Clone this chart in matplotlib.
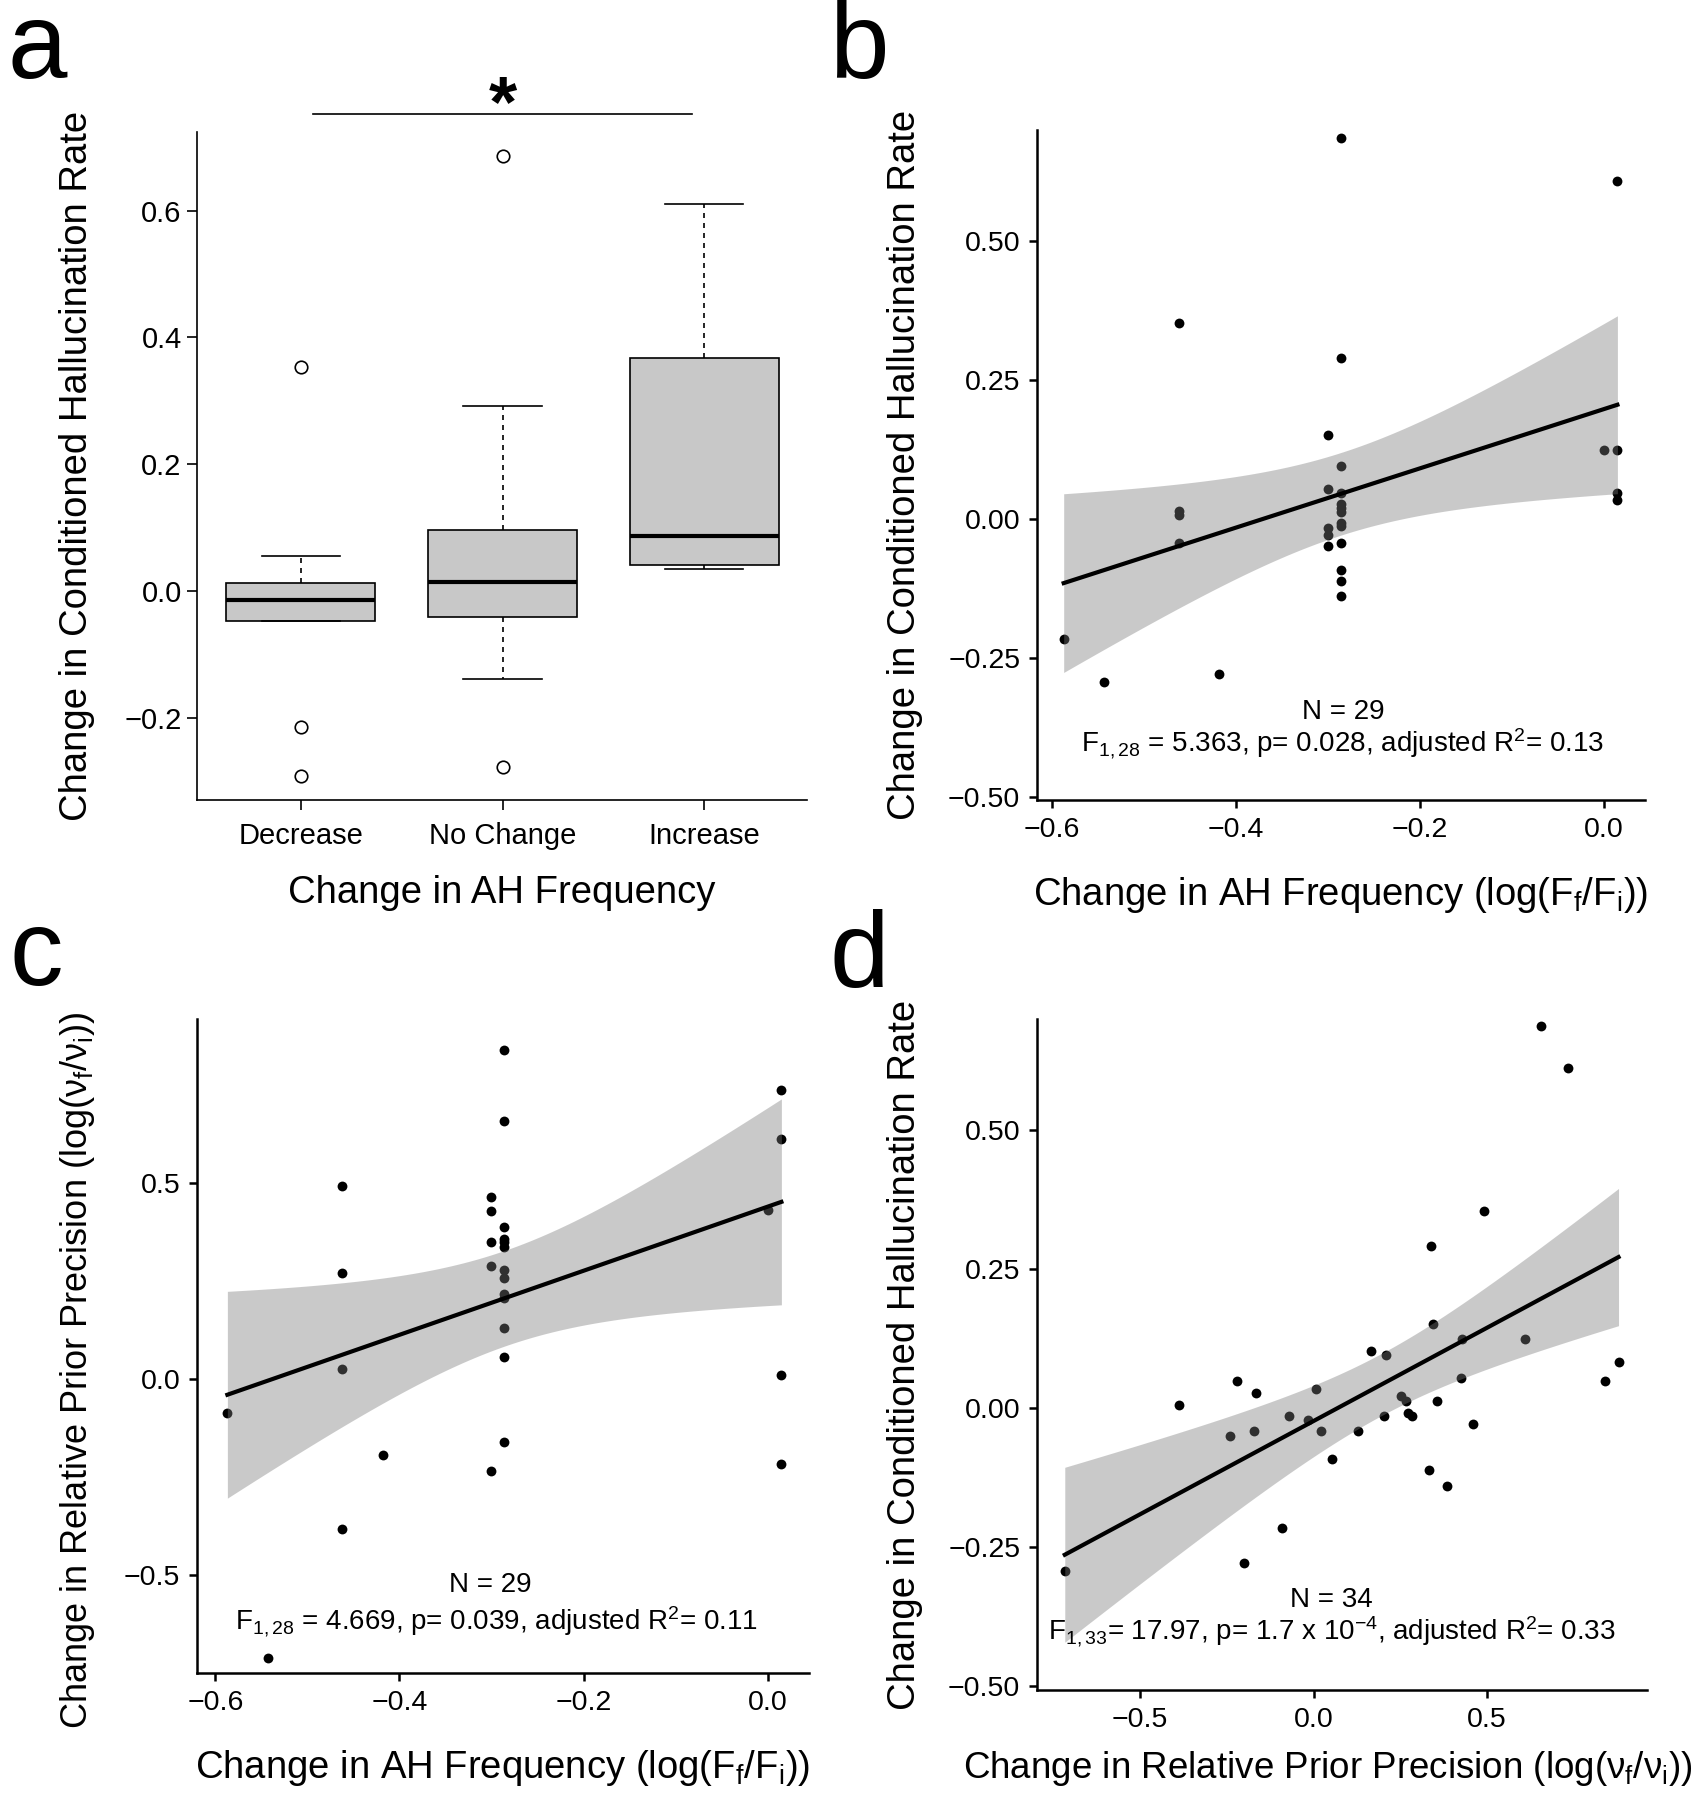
import numpy as np
import matplotlib
matplotlib.use("Agg")
import matplotlib.pyplot as plt
from matplotlib.ticker import FuncFormatter

plt.rcParams['font.family'] = ['Liberation Sans', 'DejaVu Sans']
plt.rcParams['mathtext.fontset'] = 'custom'
plt.rcParams['mathtext.rm'] = 'Liberation Sans'
plt.rcParams['mathtext.it'] = 'Liberation Sans'
plt.rcParams['mathtext.bf'] = 'Liberation Sans:bold'

# ---- panel a: box summaries ----
groups = ["Decrease", "No Change", "Increase"]
box_q1 = [-0.048, -0.042, 0.041]
box_med = [-0.014, 0.014, 0.087]
box_q3 = [0.013, 0.096, 0.367]
whisk_lo = [-0.048, -0.139, 0.034]
whisk_hi = [0.055, 0.292, 0.610]
outliers = [[0.353, -0.215, -0.292], [0.686, -0.278], []]

# ---- panel b: AH frequency vs conditioned hallucination rate ----
freq_b = [-0.286, 0.015, -0.462, -0.286, -0.300, -0.286, -0.300, -0.286, -0.286, -0.286,
          -0.286, -0.286, -0.286, -0.300, -0.300, -0.300, -0.286, -0.286, -0.286, -0.286,
          -0.462, -0.462, -0.462, -0.587, -0.543, -0.418, 0.000, 0.015, 0.015, 0.015]
rate_b = [0.686, 0.609, 0.353, 0.290, 0.152, 0.096, 0.055, 0.048, 0.028, 0.021,
          0.013, -0.007, -0.013, -0.015, -0.028, -0.049, -0.043, -0.091, -0.112, -0.139,
          0.014, 0.007, -0.042, -0.215, -0.292, -0.278, 0.124, 0.124, 0.048, 0.034]

# ---- panel c: AH frequency vs relative prior precision ----
freq_c = [-0.286, 0.015, -0.286, 0.015, -0.462, -0.300, -0.300, -0.286, -0.286, -0.286,
          -0.300, -0.286, 0.000, -0.462, -0.300, -0.286, -0.286, -0.286, -0.286, -0.286,
          -0.286, -0.462, 0.015, -0.587, -0.286, -0.418, -0.300, 0.015, -0.462, -0.543]
prec_c = [0.840, 0.738, 0.658, 0.612, 0.492, 0.463, 0.428, 0.387, 0.357, 0.348,
          0.348, 0.336, 0.431, 0.270, 0.288, 0.277, 0.258, 0.216, 0.207, 0.131,
          0.057, 0.026, 0.010, -0.086, -0.161, -0.195, -0.236, -0.216, -0.383, -0.711]

# ---- panel d: relative prior precision vs conditioned hallucination rate ----
prec_d = [0.655, 0.734, 0.490, 0.337, 0.344, 0.427, 0.609, 0.165, 0.210, 0.878,
          0.425, 0.838, -0.221, -0.165, 0.006, -0.388, 0.252, 0.266, 0.355, 0.273,
          0.284, 0.203, -0.072, -0.016, -0.240, -0.172, 0.022, 0.127, 0.460, 0.054,
          0.333, 0.383, -0.090, -0.199, -0.716]
rate_d = [0.688, 0.611, 0.354, 0.291, 0.152, 0.125, 0.125, 0.103, 0.096, 0.083,
          0.055, 0.048, 0.049, 0.028, 0.035, 0.006, 0.021, 0.013, 0.013, -0.008,
          -0.014, -0.014, -0.014, -0.021, -0.050, -0.042, -0.042, -0.042, -0.028, -0.091,
          -0.112, -0.140, -0.216, -0.279, -0.293]

W, H = 1707, 1800
fig = plt.figure(figsize=(W / 100, H / 100), dpi=100)


def add_ax(L, R, T, B):
    return fig.add_axes([L / W, 1 - B / H, (R - L) / W, (B - T) / H])


def fmt(dec):
    return FuncFormatter(lambda v, p: f"{v:.{dec}f}".replace("-", "\u2212"))


def fit_band(x, y, t):
    x = np.asarray(x)
    y = np.asarray(y)
    n = len(x)
    b1, b0 = np.polyfit(x, y, 1)
    xs = np.linspace(x.min(), x.max(), 100)
    yhat = b0 + b1 * xs
    s = np.sqrt(np.sum((y - (b0 + b1 * x)) ** 2) / (n - 2))
    se = s * np.sqrt(1 / n + (xs - x.mean()) ** 2 / np.sum((x - x.mean()) ** 2))
    return xs, yhat, yhat - t * se, yhat + t * se


def style(ax, lw, ticklen, fs=20.5, pad=6):
    for s in ["top", "right"]:
        ax.spines[s].set_visible(False)
    for s in ["left", "bottom"]:
        ax.spines[s].set_linewidth(lw)
    ax.tick_params(length=ticklen, width=lw, labelsize=fs, pad=pad, color='black')


def labels(ax, rect, xl, yl, xlab_y, ylab_x, fsx=27.5, fsy=27.5, xlab_x=None, ylab_y=None):
    L, R, T, B = rect
    ax.set_xlabel(xl, fontsize=fsx, va='center')
    ax.set_ylabel(yl, fontsize=fsy, va='center')
    cx = 0.5 if xlab_x is None else (xlab_x - L) / (R - L)
    cy = 0.5 if ylab_y is None else (B - ylab_y) / (B - T)
    ax.xaxis.set_label_coords(cx, (B - xlab_y) / (B - T))
    ax.yaxis.set_label_coords((ylab_x - L) / (R - L), cy)


def scatter_fit(ax, x, y, t):
    ax.scatter(x, y, s=50, color='black', linewidths=0, zorder=2)
    xs, yh, lo, hi = fit_band(x, y, t)
    ax.fill_between(xs, lo, hi, color='#7a7a7a', alpha=0.4, linewidth=0, zorder=3)
    ax.plot(xs, yh, color='black', lw=3, zorder=4)


# ---------------- a ----------------
rect_a = (197, 807, 132, 800)
ax = add_ax(*rect_a)
stats = []
for i, g in enumerate(groups):
    stats.append(dict(label=g, med=box_med[i], q1=box_q1[i], q3=box_q3[i],
                      whislo=whisk_lo[i], whishi=whisk_hi[i], fliers=outliers[i]))
ax.bxp(stats, positions=[1, 2, 3], widths=0.74, capwidths=0.39, patch_artist=True,
       boxprops=dict(facecolor='#c8c8c8', edgecolor='black', linewidth=1.2),
       medianprops=dict(color='black', linewidth=3),
       whiskerprops=dict(color='black', linewidth=1.2, linestyle=(0, (3, 3))),
       capprops=dict(color='black', linewidth=1.2),
       flierprops=dict(marker='o', markerfacecolor='white', markeredgecolor='black',
                       markersize=9, markeredgewidth=1.2))
ax.set_xlim(0.485, 3.51)
ax.set_ylim(-0.33, 0.724)
ax.set_yticks([-0.2, 0.0, 0.2, 0.4, 0.6])
ax.yaxis.set_major_formatter(fmt(1))
ax.set_xticks([1, 2, 3], groups)
style(ax, 1.2, 7, fs=21, pad=4)
ax.tick_params(axis='x', pad=9)
ax.plot([1.06, 2.94], [0.752, 0.752], color='black', lw=1.2, clip_on=False)
ax.text(2.0, 0.733, "*", fontsize=52, fontweight='bold', ha='center', va='baseline')
labels(ax, rect_a, "Change in AH Frequency", "Change in Conditioned Hallucination Rate", 893, 77)

# ---------------- b ----------------
rect_b = (1037, 1645, 130, 800)
ax = add_ax(*rect_b)
scatter_fit(ax, freq_b, rate_b, 2.048)
ax.set_xlim(-0.616, 0.045)
ax.set_ylim(-0.505, 0.70)
ax.set_xticks([-0.6, -0.4, -0.2, 0.0])
ax.set_yticks([-0.5, -0.25, 0.0, 0.25, 0.5])
ax.xaxis.set_major_formatter(fmt(1))
ax.yaxis.set_major_formatter(fmt(2))
style(ax, 1.8, 6)
ax.text(0.503, 0.131, "N = 29", transform=ax.transAxes, fontsize=20, ha='center', va='center')
ax.text(0.503, 0.084, "F$_{1,28}$ = 5.363, p= 0.028, adjusted R$^2$= 0.13",
        transform=ax.transAxes, fontsize=20, ha='center', va='center')
labels(ax, rect_b, "Change in AH Frequency (log(F$_f$/F$_i$))",
       "Change in Conditioned Hallucination Rate", 895, 905)

# ---------------- c ----------------
rect_c = (197, 809, 1019, 1673)
ax = add_ax(*rect_c)
scatter_fit(ax, freq_c, prec_c, 2.048)
ax.set_xlim(-0.62, 0.045)
ax.set_ylim(-0.75, 0.918)
ax.set_xticks([-0.6, -0.4, -0.2, 0.0])
ax.set_yticks([-0.5, 0.0, 0.5])
ax.xaxis.set_major_formatter(fmt(1))
ax.yaxis.set_major_formatter(fmt(1))
style(ax, 1.8, 6)
ax.text(0.48, 0.135, "N = 29", transform=ax.transAxes, fontsize=20, ha='center', va='center')
ax.text(0.49, 0.078, "F$_{1,28}$ = 4.669, p= 0.039, adjusted R$^2$= 0.11",
        transform=ax.transAxes, fontsize=20, ha='center', va='center')
labels(ax, rect_c, "Change in AH Frequency (log(F$_f$/F$_i$))",
       "Change in Relative Prior Precision (log($\\nu_f$/$\\nu_i$))", 1768, 78,
       fsy=26, ylab_y=1370)

# ---------------- d ----------------
rect_d = (1037, 1647, 1019, 1690)
ax = add_ax(*rect_d)
scatter_fit(ax, prec_d, rate_d, 2.035)
ax.set_xlim(-0.796, 0.96)
ax.set_ylim(-0.507, 0.70)
ax.set_xticks([-0.5, 0.0, 0.5])
ax.set_yticks([-0.5, -0.25, 0.0, 0.25, 0.5])
ax.xaxis.set_major_formatter(fmt(1))
ax.yaxis.set_major_formatter(fmt(2))
style(ax, 1.8, 6)
ax.text(0.483, 0.134, "N = 34", transform=ax.transAxes, fontsize=20, ha='center', va='center', zorder=5)
ax.text(0.483, 0.087, "F$_{1,33}$= 17.97, p= 1.7 x 10$^{-4}$, adjusted R$^2$= 0.33",
        transform=ax.transAxes, fontsize=20, ha='center', va='center', zorder=5)
labels(ax, rect_d, "Change in Relative Prior Precision (log($\\nu_f$/$\\nu_i$))",
       "Change in Conditioned Hallucination Rate", 1768, 905, fsx=26.5, xlab_x=1328)

# panel letters
for letter, px, py in [("a", 7, 78), ("b", 829, 78), ("c", 9, 985), ("d", 829, 987)]:
    fig.text(px / W, 1 - py / H, letter, fontsize=77, ha='left', va='baseline')

fig.savefig("out.png", dpi=100)
